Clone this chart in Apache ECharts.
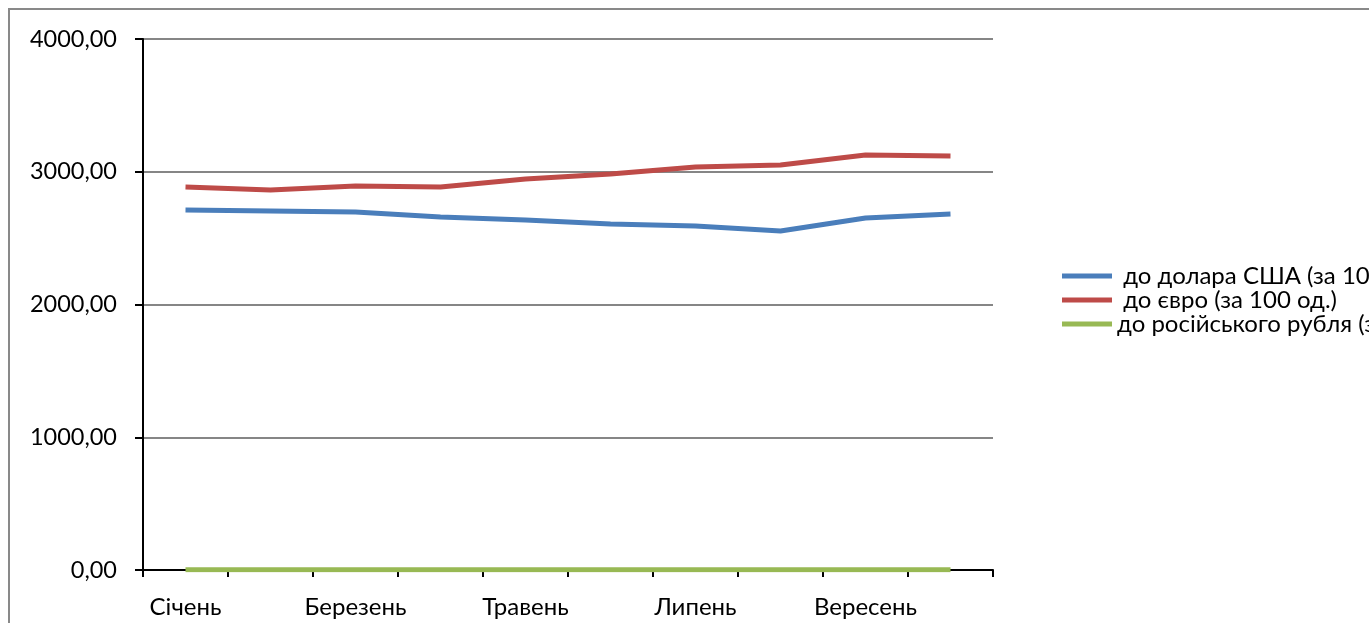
<!DOCTYPE html>
<html>
<head>
<meta charset="utf-8">
<script src="https://cdn.jsdelivr.net/npm/echarts@6/dist/echarts.min.js"></script>
<style>
  html, body { margin: 0; padding: 0; background: #fff; }
  #chart { width: 1369px; height: 623px; }
</style>
</head>
<body>
<div id="chart"></div>
<script>
// Months on the category axis
const months = ['Січень', 'Лютий', 'Березень', 'Квітень', 'Травень', 'Червень', 'Липень', 'Серпень', 'Вересень', 'Жовтень'];

// Exchange rates
const usdRate = [2712, 2704, 2697, 2659, 2637, 2606, 2591, 2554, 2652, 2682];
const eurRate = [2885, 2863, 2893, 2885, 2945, 2983, 3036, 3051, 3126, 3119];
const rubRate = [2.7, 2.7, 2.7, 2.6, 2.6, 2.6, 2.6, 2.6, 2.7, 2.7];

const seriesNames = [' до долара США (за 100 од.)', ' до євро (за 100 од.)', 'до російського рубля (за 10 од.)'];
const seriesColors = ['#4a7ebb', '#be4b48', '#98b954'];

const FONT = 'Lato';

const chart = echarts.init(document.getElementById('chart'));

const lineSeries = [usdRate, eurRate, rubRate].map((data, i) => ({
  name: seriesNames[i],
  type: 'line',
  data: data,
  symbol: 'none',
  smooth: false,
  lineStyle: { width: 5, color: seriesColors[i] },
  itemStyle: { color: seriesColors[i] },
  z: 3 + (2 - i)
}));

chart.setOption({
  animation: false,
  backgroundColor: '#ffffff',
  textStyle: { fontFamily: FONT },
  graphic: [{
    type: 'rect',
    shape: { x: 9, y: 9, width: 1370, height: 630 },
    style: { fill: 'none', stroke: '#898989', lineWidth: 2 },
    silent: true
  }],
  grid: { left: 143, right: 376, top: 39, bottom: 53 },
  legend: {
    orient: 'vertical',
    left: 1057,
    top: 259,
    itemWidth: 50,
    itemHeight: 5,
    itemGap: 0,
    icon: 'rect',
    textStyle: { fontFamily: FONT, fontSize: 24, lineHeight: 24, color: '#000' },
    data: seriesNames
  },
  xAxis: {
    type: 'category',
    data: months,
    boundaryGap: true,
    axisLine: { lineStyle: { color: '#000', width: 2 } },
    axisTick: { show: true, interval: 0, length: 7, lineStyle: { color: '#000', width: 2 } },
    axisLabel: { interval: 1, margin: 25, fontSize: 24, color: '#000', fontFamily: FONT },
    splitLine: { show: false }
  },
  yAxis: {
    type: 'value',
    min: 0,
    max: 4000,
    interval: 1000,
    axisLine: { show: true, lineStyle: { color: '#000', width: 2 } },
    axisTick: { show: true, length: 8, lineStyle: { color: '#000', width: 2 } },
    axisLabel: {
      margin: 26,
      fontSize: 23.5,
      color: '#000',
      fontFamily: FONT,
      formatter: v => v.toFixed(2).replace('.', ',')
    },
    splitLine: { show: true, lineStyle: { color: '#868686', width: 2 } }
  },
  series: lineSeries
});
</script>
</body>
</html>
